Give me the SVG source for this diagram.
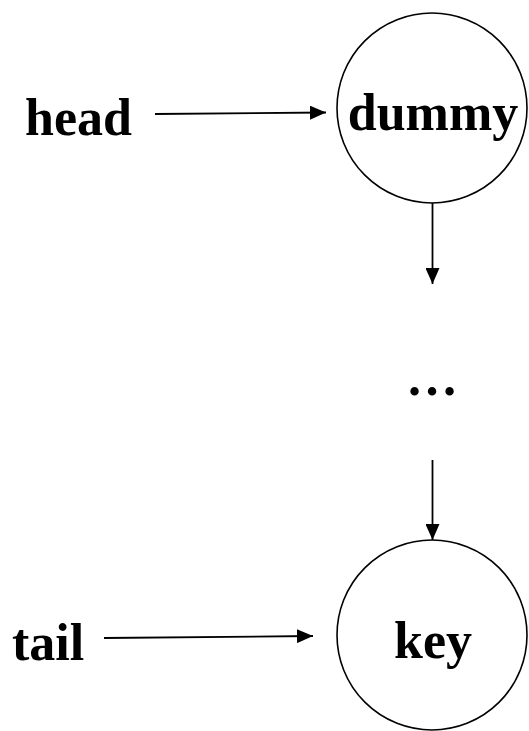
<svg xmlns="http://www.w3.org/2000/svg" width="529" height="731" viewBox="0 0 529 731">
  <style>
    .lbl { font-family: "Liberation Serif", "Times New Roman", serif; font-weight: bold; font-size: 52px; fill: #000; }
    .node { fill: #fff; stroke: #000; stroke-width: 1.6; }
    .edge { fill: none; stroke: #000; stroke-width: 1.8; }
  </style>
  <defs>
    <marker id="arrow" viewBox="0 0 16 14" refX="16" refY="7" markerWidth="16" markerHeight="14" markerUnits="userSpaceOnUse" orient="auto">
      <path d="M0,0 L16,7 L0,14 Z" fill="#000"/>
    </marker>
  </defs>
  <rect width="529" height="731" fill="#fff"/>

  <g id="dummy">
    <circle class="node" cx="432" cy="108" r="95"/>
    <text class="lbl" x="433" y="130" text-anchor="middle">dummy</text>
  </g>

  <g id="key">
    <circle class="node" cx="432" cy="635" r="95"/>
    <text class="lbl" x="433" y="658" text-anchor="middle">key</text>
  </g>

  <g id="head">
    <text class="lbl" x="25" y="135">head</text>
  </g>

  <g id="tail">
    <text class="lbl" x="12" y="660">tail</text>
  </g>

  <g id="ellipsis">
    <text class="lbl" x="432" y="395" text-anchor="middle">…</text>
  </g>

  <g id="connectors">
    <line class="edge" x1="155" y1="114" x2="326" y2="112.5" marker-end="url(#arrow)"/>
    <line class="edge" x1="104" y1="638" x2="313" y2="636" marker-end="url(#arrow)"/>
    <line class="edge" x1="432.5" y1="203" x2="432.5" y2="284" marker-end="url(#arrow)"/>
    <line class="edge" x1="432.5" y1="460" x2="432.5" y2="540" marker-end="url(#arrow)"/>
  </g>
</svg>
